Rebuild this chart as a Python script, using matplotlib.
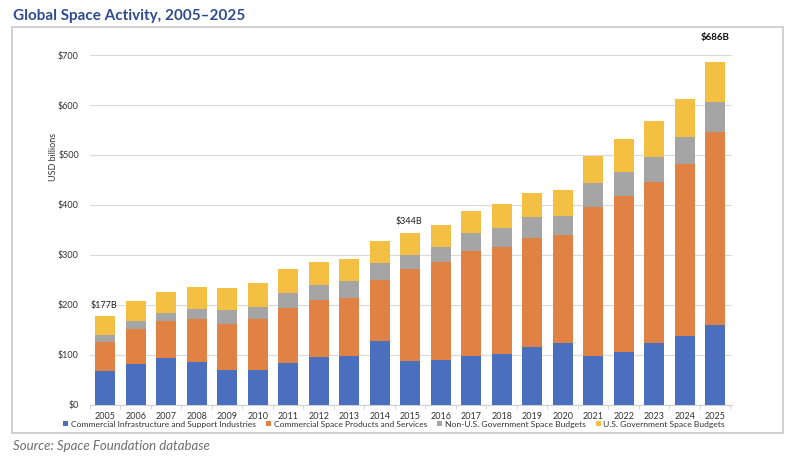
import matplotlib
matplotlib.use("Agg")
import numpy as np
import matplotlib.pyplot as plt
from matplotlib.patches import Rectangle

plt.rcParams['font.family'] = ['Lato', 'DejaVu Sans']

years = [str(y) for y in range(2005, 2026)]
infra = [67, 81, 93, 86, 69, 69, 84, 95, 97, 127, 87, 90, 97, 101, 116, 123, 97, 105, 124, 138, 159]
products = [58, 71, 74, 85, 93, 102, 109, 114, 116, 122, 184, 195, 211, 214, 217, 216, 298, 313, 321, 343, 386]
non_us_gov = [14, 15, 17, 20, 27, 25, 30, 30, 34, 35, 28, 30, 35, 38, 42, 39, 48, 48, 50, 54, 62]
us_gov = [38, 40, 41, 44, 45, 48, 48, 46, 44, 43, 45, 44, 44, 48, 48, 52, 54, 65, 73, 77, 79]
series_names = ["Commercial Infrastructure and Support Industries",
                "Commercial Space Products and Services",
                "Non-U.S. Government Space Budgets",
                "U.S. Government Space Budgets"]
colors = ["#4A6FBF", "#DF8243", "#A5A5A5", "#F4C043"]
callouts = {0: "$177B", 10: "$344B", 20: "$686B"}

fig = plt.figure(figsize=(8, 4.63), dpi=100)
ax = fig.add_axes([0.1125, 0.1253, 0.8025, 0.7775])

x = np.arange(len(years))
bottom = np.zeros(len(years))
handles = []
for vals, name, c in zip([infra, products, non_us_gov, us_gov], series_names, colors):
    b = ax.bar(x, vals, width=0.65, bottom=bottom, color=c, label=name, zorder=3)
    handles.append(b)
    bottom += np.array(vals)

ax.set_xlim(-0.5, 20.55)
ax.set_ylim(0, 720)
ax.set_yticks(range(0, 701, 100))
ax.set_yticklabels([f"${v}" for v in range(0, 701, 100)])
ax.yaxis.grid(True, color="#DADADA", lw=0.8, zorder=0)
for s in ["top", "right", "left"]:
    ax.spines[s].set_visible(False)
ax.spines["bottom"].set_color("#D0D0D0")
ax.tick_params(axis="y", length=0, labelsize=6.5, colors="#333333", pad=8)
ax.set_xticks(x)
ax.set_xticklabels(years)
ax.tick_params(axis="x", length=0, labelsize=6.5, colors="#333333", pad=5)
ax.set_xticks(np.arange(-0.5, 20.6, 1), minor=True)
ax.tick_params(axis="x", which="minor", length=3, color="#D0D0D0")
ax.set_ylabel("USD billions", fontsize=6.5, color="#333333")
ax.yaxis.set_label_coords(-0.05, 0.69)

for i, txt in callouts.items():
    tot = bottom[i]
    if i == 20:
        ax.text(x[i], tot + 40, txt, ha="center", va="bottom", fontsize=7, fontweight="bold", color="#111111")
    else:
        ax.text(x[i] - 0.05, tot + 13, txt, ha="center", va="bottom", fontsize=6.5, color="#222222")

fig.legend(handles=handles, labels=series_names, loc="center", bbox_to_anchor=(0.4925, 0.084),
           ncol=4, frameon=False, fontsize=6.1, handlelength=0.6, handleheight=0.6,
           handletextpad=0.3, columnspacing=1.2, borderaxespad=0, labelcolor="#333333")

fig.patches.append(Rectangle((12 / 800, 1 - 433 / 463), 771 / 800, 406 / 463, transform=fig.transFigure,
                             fill=False, edgecolor="#C8C8C8", lw=1.2))

fig.text(13 / 800, 1 - 16 / 463, "Global Space Activity, 2005\u20132025", fontsize=11, fontweight="bold",
         color="#2F4C8E", va="center", ha="left")
fig.text(13 / 800, 1 - 446 / 463, "Source: Space Foundation database", fontsize=9.5, style="italic",
         color="#6E6E6E", va="center", ha="left")

fig.savefig("out.png", dpi=100)
